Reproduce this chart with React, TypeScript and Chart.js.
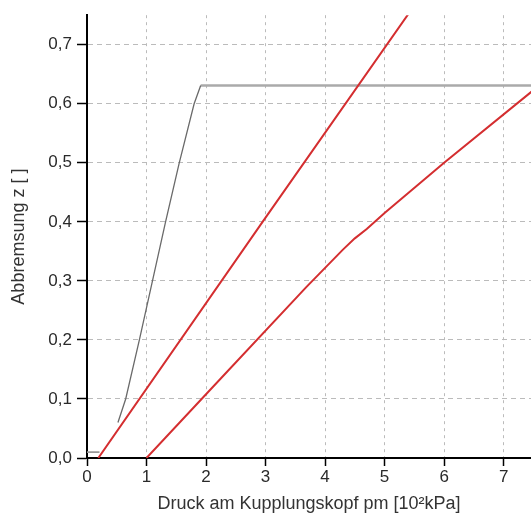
import React, { useEffect, useRef } from "react";
import { Chart, registerables } from "chart.js";

Chart.register(...registerables);

// Red line 1 (steeper)
const red1X = [0.19, 2.95, 5.42];
const red1Y = [0, 0.4, 0.755];
// Red line 2 (with bend)
const red2X = [1, 2, 3.68, 4.3, 4.5, 4.7, 5, 6, 7.5];
const red2Y = [0, 0.108, 0.289, 0.353, 0.372, 0.388, 0.415, 0.5, 0.623];
// Dark gray rising line
const riseX = [0.52, 0.65, 0.88, 1.1, 1.32, 1.55, 1.8, 1.91];
const riseY = [0.06, 0.1, 0.2, 0.3, 0.4, 0.5, 0.6, 0.631];
// Light gray plateau
const plateauX = [1.91, 7.5];
const plateauY = [0.631, 0.631];
// Light gray low start
const startX = [0, 0.21];
const startY = [0.01, 0.01];

const xTitle = "Druck am Kupplungskopf pm [10²kPa]";
const yTitle = "Abbremsung z [ ]";

const toPts = (xs: number[], ys: number[]) => xs.map((x, i) => ({ x, y: ys[i] }));

const FONT = "'Liberation Sans', Arial, sans-serif";

export default function App() {
  const ref = useRef<HTMLCanvasElement | null>(null);
  useEffect(() => {
    if (!ref.current) return;
    const mk = (xs: number[], ys: number[], color: string, width: number) => ({
      data: toPts(xs, ys),
      borderColor: color,
      borderWidth: width,
      pointRadius: 0,
      fill: false,
      tension: 0,
    });
    const chart = new Chart(ref.current, {
      type: "line",
      data: {
        datasets: [
          mk(red1X, red1Y, "#d42e30", 2),
          mk(red2X, red2Y, "#d42e30", 2),
          mk(riseX, riseY, "#6a6a6a", 1.3),
          mk(plateauX, plateauY, "#aaaaaa", 2.5),
          mk(startX, startY, "#999999", 1.8),
        ] as any,
      },
      options: {
        animation: false,
        responsive: false,
        maintainAspectRatio: false,
        layout: { padding: { top: 14, right: 0, left: 0, bottom: 0 } },
        plugins: { legend: { display: false }, tooltip: { enabled: false } },
        scales: {
          x: {
            type: "linear",
            min: 0,
            max: 7.46,
            afterFit: (s: any) => {
              s.height = 57;
            },
            ticks: {
              stepSize: 1,
              includeBounds: false,
              color: "#2a2a2a",
              font: { family: FONT, size: 17 },
              padding: 1,
              maxRotation: 0,
            },
            grid: {
              color: "#bbbbbb",
              lineWidth: 1,
              drawTicks: true,
              tickLength: 8,
              tickColor: "#000",
              tickWidth: 1.5,
            },
            border: { display: true, color: "#000", width: 2, dash: [3, 4] },
            title: {
              display: true,
              text: xTitle,
              color: "#333",
              font: { family: FONT, size: 18 },
              padding: { top: 0, bottom: 0 },
            },
          },
          y: {
            type: "linear",
            min: 0,
            max: 0.75,
            afterFit: (s: any) => {
              s.width = 87;
            },
            ticks: {
              stepSize: 0.1,
              includeBounds: false,
              color: "#2a2a2a",
              font: { family: FONT, size: 17 },
              padding: 5,
              callback: (v: any) => Number(v).toFixed(1).replace(".", ","),
            },
            grid: {
              color: "#bbbbbb",
              lineWidth: 1,
              drawTicks: true,
              tickLength: 10,
              tickColor: "#000",
              tickWidth: 1.5,
            },
            border: { display: true, color: "#000", width: 2, dash: [5, 4] },
            title: {
              display: true,
              text: yTitle,
              color: "#333",
              font: { family: FONT, size: 18 },
              padding: { top: 8, bottom: 0 },
            },
          },
        },
      } as any,
    });
    return () => chart.destroy();
  }, []);
  return (
    <div style={{ position: "fixed", left: 0, top: 0, width: 531, height: 515 }}>
      <canvas ref={ref} width={531} height={515} style={{ display: "block" }} />
    </div>
  );
}
